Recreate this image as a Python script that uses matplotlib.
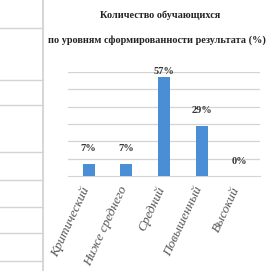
import numpy as np
import matplotlib
matplotlib.use('Agg')
import matplotlib.pyplot as plt
from matplotlib.lines import Line2D

categories = ['Критический', 'Ниже среднего', 'Средний', 'Повышенный', 'Высокий']
values = [7, 7, 57, 29, 0]
labels = ['7%', '7%', '57%', '29%', '0%']

fig = plt.figure(figsize=(2.71, 2.71), dpi=100)
fig.patch.set_facecolor('white')

# table lines of the document around the chart
W = 271.0
def fy(y):
    return 1 - y / W
fig.add_artist(Line2D([43 / W, 43 / W], [0, 1], color='#cfcfcf', lw=1.2, transform=fig.transFigure))
for y in [28, 80, 105, 152, 180, 207, 233, 261]:
    fig.add_artist(Line2D([0, 43 / W], [fy(y), fy(y)], color='#d4d4d4', lw=1.0, transform=fig.transFigure))

ax = fig.add_axes([68 / W, fy(176), 192 / W, (176 - 72) / W])
x = np.arange(len(categories))
ax.bar(x, values, width=0.32, color='#4a8fd6', zorder=3)
ax.set_ylim(0, 60)
ax.set_xlim(-0.55, 4.55)
ax.set_yticks(np.arange(10, 61, 10))
ax.set_yticklabels([])
ax.tick_params(left=False, bottom=False, labelbottom=False)
ax.grid(axis='y', color='#d4d4d4', lw=0.9, zorder=0)
for s in ['top', 'right', 'left']:
    ax.spines[s].set_visible(False)
ax.spines['bottom'].set_color('#d4d4d4')

for xi, v, t in zip(x, values, labels):
    ly = min(v + 6, 57.5)
    ax.text(xi, ly, t, ha='center', va='bottom', fontsize=7.5, fontweight='bold',
            family='Liberation Serif', color='#333333', clip_on=False)

for xi, c in zip(x, categories):
    ax.text(xi - 0.2, -5, c, rotation=65, ha='right', va='top', rotation_mode='anchor',
            fontsize=9.5, style='italic', family='Liberation Serif', color='#555555')

fig.text(160 / W, fy(15), 'Количество обучающихся', ha='center', va='center',
         fontsize=7.4, fontweight='bold', family='Liberation Serif', color='#222222')
fig.text(157 / W, fy(40), 'по уровням сформированности результата (%)', ha='center', va='center',
         fontsize=7.4, fontweight='bold', family='Liberation Serif', color='#222222')

fig.savefig('out.png', dpi=100)
